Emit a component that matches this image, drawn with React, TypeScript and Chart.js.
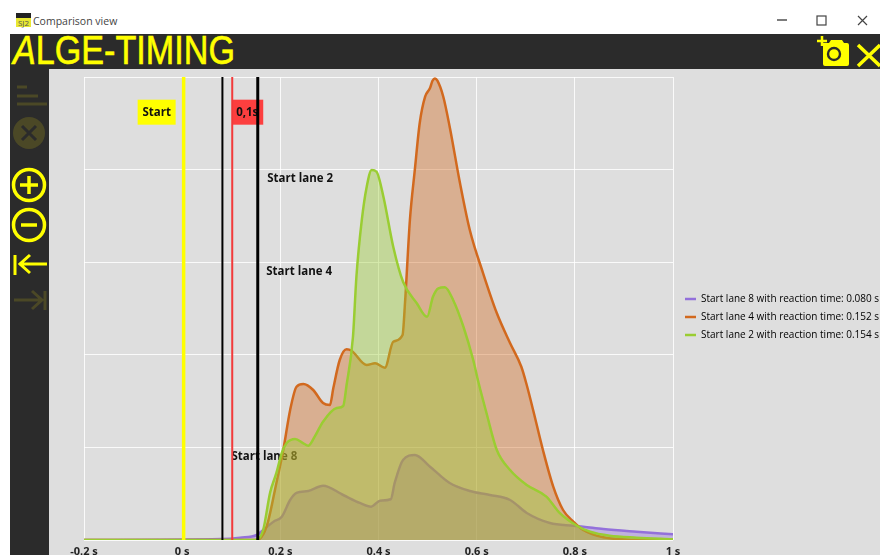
import React, { useEffect, useRef } from "react";
import { Chart, registerables } from "chart.js";

Chart.register(...registerables);

const laneNames = ["Start lane 8", "Start lane 4", "Start lane 2"];
const reactionTimes = [0.08, 0.152, 0.154];
const reactionLineTimes = [0.082, 0.153, 0.155];
const xTicks = [-0.2, 0, 0.2, 0.4, 0.6, 0.8, 1];

const lane8Times = [-0.2, 0.08, 0.118, 0.152, 0.165, 0.186, 0.203, 0.22, 0.233, 0.257, 0.287, 0.328, 0.362, 0.385, 0.403, 0.425, 0.433, 0.45, 0.474, 0.505, 0.545, 0.586, 0.627, 0.668, 0.702, 0.749, 0.797, 0.817, 0.858, 0.926, 1];
const lane8Values = [0, 0.01, 0.025, 0.054, 0.108, 0.198, 0.252, 0.432, 0.508, 0.529, 0.586, 0.486, 0.4, 0.36, 0.424, 0.44, 0.616, 0.864, 0.918, 0.792, 0.616, 0.529, 0.486, 0.432, 0.292, 0.184, 0.154, 0.144, 0.119, 0.09, 0.062];

const lane4Times = [-0.2, 0.152, 0.172, 0.192, 0.206, 0.22, 0.233, 0.247, 0.267, 0.287, 0.301, 0.308, 0.321, 0.335, 0.345, 0.376, 0.393, 0.413, 0.43, 0.449, 0.454, 0.464, 0.474, 0.484, 0.495, 0.505, 0.51, 0.515, 0.52, 0.532, 0.545, 0.566, 0.586, 0.613, 0.641, 0.668, 0.691, 0.702, 0.715, 0.735, 0.756, 0.776, 0.797, 0.817, 0.858, 0.926, 1];
const lane4Values = [0, 0, 0.144, 0.616, 0.972, 1.404, 1.655, 1.685, 1.62, 1.479, 1.458, 1.641, 1.944, 2.059, 2.044, 1.89, 1.908, 1.861, 2.141, 2.214, 2.559, 3.456, 3.996, 4.503, 4.787, 4.881, 4.96, 4.985, 4.96, 4.787, 4.463, 3.855, 3.348, 2.883, 2.451, 2.127, 1.871, 1.674, 1.404, 0.972, 0.576, 0.324, 0.198, 0.108, 0.029, 0.003, 0];

const lane2Times = [-0.2, 0.148, 0.165, 0.179, 0.192, 0.203, 0.213, 0.23, 0.247, 0.257, 0.27, 0.287, 0.315, 0.328, 0.335, 0.348, 0.355, 0.366, 0.376, 0.386, 0.396, 0.41, 0.43, 0.45, 0.478, 0.499, 0.511, 0.522, 0.535, 0.552, 0.573, 0.593, 0.604, 0.62, 0.641, 0.668, 0.702, 0.742, 0.769, 0.804, 0.831, 0.871, 0.926, 1];
const lane2Values = [0, 0, 0.108, 0.508, 0.724, 0.94, 1.047, 1.091, 1.044, 1.018, 1.116, 1.278, 1.425, 1.447, 1.674, 2.195, 2.843, 3.456, 3.815, 3.996, 3.977, 3.707, 3.167, 2.789, 2.556, 2.411, 2.627, 2.718, 2.729, 2.592, 2.303, 1.944, 1.695, 1.371, 0.972, 0.756, 0.594, 0.468, 0.292, 0.154, 0.09, 0.046, 0.025, 0.008];

const startTime = 0.003;
const tenthTime = 0.102;
const laneLabelLevels = [1, 3, 4];
const flagLevel = 4.62;

const pairs = (xs: number[], ys: number[]) => xs.map((x, i) => ({ x, y: ys[i] }));
const upright = (t: number) => [{ x: t, y: 0 }, { x: t, y: 5 }];
const curve = (label: string, data: any[], rgb: string, order: number) => ({
  label,
  data,
  borderColor: `rgb(${rgb})`,
  backgroundColor: `rgba(${rgb},0.4)`,
  borderWidth: 2.5,
  pointRadius: 0,
  fill: "origin",
  cubicInterpolationMode: "monotone",
  order,
});
const marker = (label: string, t: number, color: string, width: number) => ({
  label,
  data: upright(t),
  borderColor: color,
  borderWidth: width,
  pointRadius: 0,
  fill: false,
  order: -1,
});

const TEXT_FONT = "700 11.5px 'Open Sans', sans-serif";

const flagsPlugin = {
  id: "flags",
  afterLayout(chart: any) {
    if (chart.legend) {
      chart.legend.left += 4;
      chart.legend.top += 1;
      chart.legend.bottom += 1;
    }
  },
  beforeDatasetsDraw(chart: any) {
    const { ctx, scales } = chart;
    const { x, y } = scales;
    ctx.save();
    ctx.font = TEXT_FONT;
    ctx.textBaseline = "middle";
    const flagY = y.getPixelForValue(flagLevel);
    const startX = x.getPixelForValue(startTime);
    ctx.fillStyle = "#ffff00";
    ctx.fillRect(startX - 46, flagY - 12.5, 38, 25);
    ctx.fillStyle = "#111";
    ctx.textAlign = "center";
    ctx.fillText("Start", startX - 27, flagY + 1);
    const tenthX = x.getPixelForValue(tenthTime);
    ctx.fillStyle = "rgba(255,45,45,0.9)";
    ctx.fillRect(tenthX, flagY - 12.5, 31, 25);
    ctx.fillStyle = "#111";
    ctx.fillText("0,1s", tenthX + 15, flagY + 1);
    ctx.textAlign = "left";
    laneNames.forEach((name, i) => {
      ctx.fillText(
        name,
        x.getPixelForValue(reactionLineTimes[i]) + 9,
        y.getPixelForValue(laneLabelLevels[i]) + 9.5
      );
    });
    ctx.restore();
  },
};

const dim = "#4b4826";
const yellow = "#ffff00";

function Chrome() {
  return (
    <svg width={880} height={555} style={{ position: "absolute", left: 0, top: 0 }}>
      <rect x={0} y={0} width={880} height={555} fill="#ffffff" />
      <rect x={10} y={34} width={870} height={35} fill="#2b2b2b" />
      <rect x={10} y={69} width={39} height={486} fill="#2b2b2b" />
      <rect x={49} y={69} width={831} height={486} fill="#dedede" />

      <rect x={16} y={13} width={15} height={5} fill="#222" />
      <rect x={16} y={18} width={15} height={9} fill="#e8e832" />
      <text x={23.5} y={26} fontSize={8} fontFamily="'Open Sans'" textAnchor="middle" fill="#555">SJ2</text>
      <text x={33} y={25} fontSize={10.5} fontFamily="'Open Sans'" fill="#444">Comparison view</text>

      <path d="M777 20h10" stroke="#444" strokeWidth={1.4} />
      <rect x={817} y={16} width={9} height={9} fill="none" stroke="#444" strokeWidth={1.2} />
      <path d="M858 16l9 9M867 16l-9 9" stroke="#444" strokeWidth={1.2} />

      <text x={13} y={64} fontSize={40} fontFamily="'Liberation Sans'" fill={yellow} stroke={yellow} strokeWidth={0.6} textLength={222} lengthAdjust="spacingAndGlyphs"><tspan fontStyle="italic">A</tspan>LGE-TIMING</text>

      <path d="M817 41h10M822 36v10" stroke={yellow} strokeWidth={2.5} />
      <path d="M823 43h6l2-3h11l2 3h3q2 0 2 2v19q0 2-2 2h-22q-2 0-2-2z" fill={yellow} />
      <circle cx={834} cy={54} r={6} fill="none" stroke="#2b2b2b" strokeWidth={2.4} />
      <path d="M858 45l22 21M880 45l-22 21" stroke={yellow} strokeWidth={3.5} />

      <path d="M17 87h10M17 96h21M17 104h30" stroke={dim} strokeWidth={3} />
      <circle cx={29} cy={133} r={16} fill={dim} />
      <path d="M22 126l14 14M36 126l-14 14" stroke="#2b2b2b" strokeWidth={3} />
      <circle cx={29} cy={185} r={15.5} fill="none" stroke={yellow} strokeWidth={3.5} />
      <path d="M20 185h18M29 176v18" stroke={yellow} strokeWidth={3.5} />
      <circle cx={29} cy={225} r={15.5} fill="none" stroke={yellow} strokeWidth={3.5} />
      <path d="M21 225h16" stroke={yellow} strokeWidth={3.5} />
      <path d="M15 255v20M47 264h-28M30 255l-10 9 10 9" fill="none" stroke={yellow} strokeWidth={3} />
      <path d="M45 291v19M14 300h28M32 291l10 9-10 9" fill="none" stroke={dim} strokeWidth={3} />
    </svg>
  );
}

export default function App() {
  const ref = useRef<HTMLCanvasElement | null>(null);
  useEffect(() => {
    document.body.style.margin = "0";
    const chart = new Chart(ref.current!, {
      type: "line",
      data: {
        datasets: [
          curve(laneNames[0], pairs(lane8Times, lane8Values), "147,112,219", 3),
          curve(laneNames[1], pairs(lane4Times, lane4Values), "210,105,30", 2),
          curve(laneNames[2], pairs(lane2Times, lane2Values), "154,205,50", 1),
          marker("Start", startTime, "#ffff00", 3.5),
          marker("0,1s", tenthTime, "#f23a3a", 2),
          ...reactionLineTimes.map((t, i) => marker(laneNames[i], t, "#000000", 2)),
        ] as any,
      },
      options: {
        animation: false,
        responsive: false,
        layout: { padding: { left: 84, top: 77, right: 0, bottom: 0 } },
        scales: {
          x: {
            type: "linear",
            min: -0.2,
            max: 1,
            afterBuildTicks: (s: any) => {
              s.ticks = xTicks.map((value) => ({ value }));
            },
            afterFit: (s: any) => {
              s.height = 15;
            },
            grid: { color: "rgba(255,255,255,0.85)", drawTicks: false, lineWidth: 1 },
            border: { display: false },
            ticks: {
              autoSkip: false,
              maxRotation: 0,
              padding: 5,
              color: "#222",
              font: { family: "'Open Sans', sans-serif", size: 11, weight: "700" },
              callback: (v: any) => `${v} s`,
            },
          },
          y: {
            type: "linear",
            min: 0,
            max: 5,
            grid: { color: "rgba(255,255,255,0.85)", drawTicks: false, lineWidth: 1 },
            border: { display: false },
            ticks: { display: false, stepSize: 1 },
          },
        },
        plugins: {
          tooltip: { enabled: false },
          legend: {
            display: true,
            position: "right",
            maxWidth: 207,
            labels: {
              boxWidth: 11,
              boxHeight: 2.5,
              padding: 8,
              color: "#333",
              font: { family: "'Open Sans', sans-serif", size: 10 },
              generateLabels: (c: any) =>
                laneNames.map((name, i) => ({
                  text: `${name} with reaction time: ${reactionTimes[i].toFixed(3)} s`,
                  fillStyle: c.data.datasets[i].borderColor,
                  strokeStyle: c.data.datasets[i].borderColor,
                  lineWidth: 0,
                  datasetIndex: i,
                  hidden: false,
                })),
            },
          },
        },
      },
      plugins: [flagsPlugin],
    } as any);
    return () => chart.destroy();
  }, []);
  return (
    <div style={{ position: "relative", width: 880, height: 555, overflow: "hidden", filter: "blur(0.4px)" }}>
      <Chrome />
      <canvas ref={ref} width={880} height={555} style={{ position: "absolute", left: 0, top: 0 }} />
    </div>
  );
}
